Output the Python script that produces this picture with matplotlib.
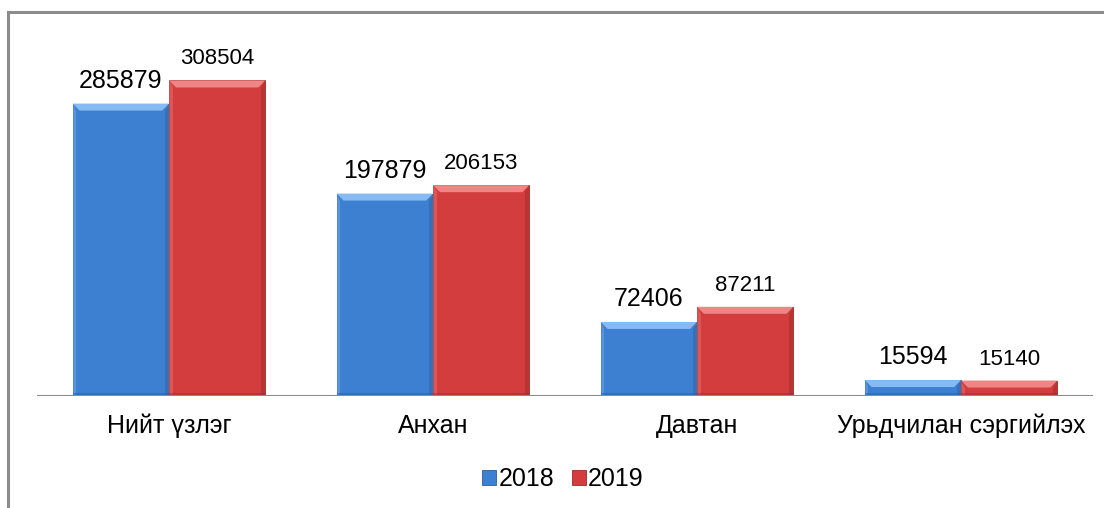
import matplotlib
matplotlib.use("Agg")
import matplotlib.pyplot as plt
import numpy as np
from matplotlib.lines import Line2D
from matplotlib.patches import Patch, Polygon

categories = ["Нийт үзлэг", "Анхан", "Давтан", "Урьдчилан сэргийлэх"]
series_names = ["2018", "2019"]
values_2018 = [285879, 197879, 72406, 15594]
values_2019 = [308504, 206153, 87211, 15140]

plt.rcParams['font.family'] = ['Liberation Sans', 'DejaVu Sans']

W, H = 1104, 508
fig = plt.figure(figsize=(W / 100, H / 100), dpi=100)

# outer frame (top and left visible)
fig.add_artist(Line2D([7.5 / W, 7.5 / W], [0, 1 - 11.5 / H], color="#8c8c8c", lw=2.2, transform=fig.transFigure))
fig.add_artist(Line2D([7.5 / W, 1], [1 - 11.5 / H, 1 - 11.5 / H], color="#8c8c8c", lw=2.2, transform=fig.transFigure))

ax_left, ax_right = 37 / W, 1093 / W
ax_bottom, ax_top = 1 - 396 / H, 1 - 38 / H
ax = fig.add_axes([ax_left, ax_bottom, ax_right - ax_left, ax_top - ax_bottom])
ymax = 350000
ax.set_ylim(0, ymax)
ax.set_xlim(-0.5, len(categories) - 0.5)
for s in ax.spines.values():
    s.set_visible(False)
ax.set_yticks([])
ax.set_xticks([])
ax.axhline(0, color="#8c8c8c", lw=1.5, zorder=5)

x = np.arange(len(categories))
w = 0.365
colors = {"2018": ("#3d80d2", "#86baf2", "#2b5f9e"), "2019": ("#d43d3d", "#ef8686", "#9e2a2a")}

ax_h_px = (ax_top - ax_bottom) * H
ax_w_px = (ax_right - ax_left) * W
dy = ymax / ax_h_px  # data per pixel (y)
dx = len(categories) / ax_w_px  # data per pixel (x)

def draw_bars(xpos, vals, name, fs, off):
    base, light, dark = colors[name]
    bars = ax.bar(xpos, vals, width=w, color=base, edgecolor=dark, linewidth=0.6, zorder=2)
    for b, v in zip(bars, vals):
        x0 = b.get_x()
        x1 = x0 + b.get_width()
        top = b.get_height()
        bh = 7 * dy
        bw = 7 * dx
        # top bevel
        ax.add_patch(Polygon([[x0, top], [x1, top], [x1 - bw, top - bh], [x0 + bw, top - bh]],
                             closed=True, facecolor=light, edgecolor="none", zorder=3))
        # side shading
        sh = min(top, 7 * dy)
        ax.add_patch(Polygon([[x1, top], [x1, 0], [x1 - bw * 0.6, 0], [x1 - bw * 0.6, top - sh]],
                             closed=True, facecolor=dark, alpha=0.45, edgecolor="none", zorder=3))
        ax.add_patch(Polygon([[x0, top], [x0, 0], [x0 + bw * 0.5, 0], [x0 + bw * 0.5, top - sh]],
                             closed=True, facecolor=light, alpha=0.35, edgecolor="none", zorder=3))
        # bottom shading
        ax.add_patch(Polygon([[x0, 0], [x1, 0], [x1, min(top, 3 * dy)], [x0, min(top, 3 * dy)]],
                             closed=True, facecolor=dark, alpha=0.5, edgecolor="none", zorder=3))
        ax.annotate(f"{v}", (b.get_x() + b.get_width() / 2, top), xytext=(0, off),
                    textcoords="offset points", ha="center", va="baseline", fontsize=fs, color="black")
    return bars

draw_bars(x - w / 2, values_2018, "2018", 18, 11.5)
draw_bars(x + w / 2, values_2019, "2019", 16, 11.5)

for xi, c in zip(x, categories):
    ax.text(xi, -dy * 30, c, ha="center", va="center", fontsize=18, color="black")

handles = [Patch(facecolor=colors[n][0], edgecolor=colors[n][2], linewidth=0.6) for n in series_names]
fig.legend(handles, series_names, loc="center", bbox_to_anchor=(0.510, 1 - 479 / H), ncol=2,
           frameon=False, fontsize=18, handlelength=0.55, handleheight=0.55, handletextpad=0.1,
           columnspacing=0.7)

fig.savefig("out.png", dpi=100)
